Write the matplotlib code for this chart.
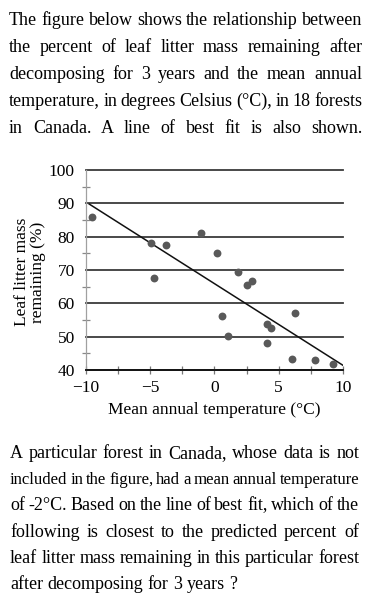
import matplotlib
matplotlib.use("Agg")
import matplotlib.pyplot as plt
import numpy as np

# data
temperature = [-9.56, -4.96, -3.77, -4.70, -1.06, 0.21, 1.84, 2.55, 2.88,
               0.60, 1.06, 4.08, 4.39, 4.10, 6.29, 6.03, 7.82, 9.22]
litter_remaining = [85.8, 78.2, 77.6, 67.6, 81.0, 75.0, 69.4, 65.6, 66.8,
                    56.3, 50.3, 53.8, 52.7, 48.2, 57.0, 43.4, 43.0, 41.8]

fit_intercept = 65.9
fit_slope = -2.45
fit_x = [-9.75, 10.0]

x_major = [-10, -5, 0, 5, 10]
x_minor = [-7.5, -2.5, 2.5, 7.5]
y_major = [40, 50, 60, 70, 80, 90, 100]
y_minor = [45, 55, 65, 75, 85, 95]

intro_lines = [
    "The figure below shows the relationship between",
    "the percent of leaf litter mass remaining after",
    "decomposing for 3 years and the mean annual",
    "temperature, in degrees Celsius (°C), in 18 forests",
    "in Canada. A line of best fit is also shown.",
]
question_lines = [
    "A particular forest in Canada, whose data is not",
    "included in the figure, had a mean annual temperature",
    "of -2°C. Based on the line of best fit, which of the",
    "following is closest to the predicted percent of",
    "leaf litter mass remaining in this particular forest",
    "after decomposing for 3 years ?",
]

SERIF = "Liberation Serif"
W, H = 376, 597

fig = plt.figure(figsize=(W / 100, H / 100), dpi=100)
renderer = fig.canvas.get_renderer()


def put_line(text, baseline, x0, x1, size, justify=True):
    # lay out words by hand so the line fills x0..x1 like the scan
    words = text.split(" ")
    em = size * 100 / 72
    objs = [fig.text(0, 0, w, fontsize=size, family=SERIF, va="baseline") for w in words]
    widths = [o.get_window_extent(renderer).width for o in objs]
    total = sum(widths)
    if justify and len(words) > 1:
        gap = (x1 - x0 - total) / (len(words) - 1)
        if gap < 0.16 * em:
            new = size * (x1 - x0) / (total + (len(words) - 1) * 0.17 * em)
            for o in objs:
                o.remove()
            return put_line(text, baseline, x0, x1, new, justify)
    else:
        gap = 0.25 * em
    x = x0
    for o, w in zip(objs, widths):
        o.set_position((x / W, 1 - baseline / H))
        x += w + gap


for i, line in enumerate(intro_lines):
    put_line(line, 25 + i * 27, 9, 362, 13)

for i, line in enumerate(question_lines):
    put_line(line, 458 + i * 26.2, 10, 359, 13, justify=(i < len(question_lines) - 1))

ax = fig.add_axes([86 / W, 1 - 370 / H, 257 / W, 200 / H])
ax.set_xlim(-10, 10)
ax.set_ylim(40, 100)

for y in y_major:
    ax.axhline(y, color="#3a3a3a", lw=1.3, zorder=1, clip_on=False)

xs = np.array(fit_x)
ax.plot(xs, fit_intercept + fit_slope * xs, color="#111111", lw=1.1, zorder=2)
ax.scatter(temperature, litter_remaining, s=32, color="#595959", zorder=3,
           clip_on=False, linewidths=0)

for s in ["top", "right"]:
    ax.spines[s].set_visible(False)
ax.spines["left"].set_color("#a0a0a0")
ax.spines["left"].set_linewidth(0.9)
ax.spines["bottom"].set_color("#111111")
ax.spines["bottom"].set_linewidth(1.3)

ax.set_xticks(x_major)
ax.set_xticks(x_minor, minor=True)
ax.set_yticks(y_major)
ax.set_yticks(y_minor, minor=True)
ax.tick_params(axis="x", which="both", direction="inout", length=6, width=0.9,
               color="#777777", labelsize=12.5, pad=4)
ax.tick_params(axis="y", which="major", length=0, labelsize=12.5, pad=8)
ax.tick_params(axis="y", which="minor", direction="inout", length=6, width=0.9,
               color="#888888")
for lab in ax.get_xticklabels() + ax.get_yticklabels():
    lab.set_family(SERIF)

fig.text(214 / W, 1 - 410 / H, "Mean annual temperature (°C)", family=SERIF,
         fontsize=12.5, ha="center", va="center")
fig.text(30 / W, 1 - 272 / H, "Leaf litter mass\nremaining (%)", family=SERIF,
         fontsize=12.5, ha="center", va="center", rotation=90, linespacing=1.0)

fig.savefig("out.png", dpi=100)
